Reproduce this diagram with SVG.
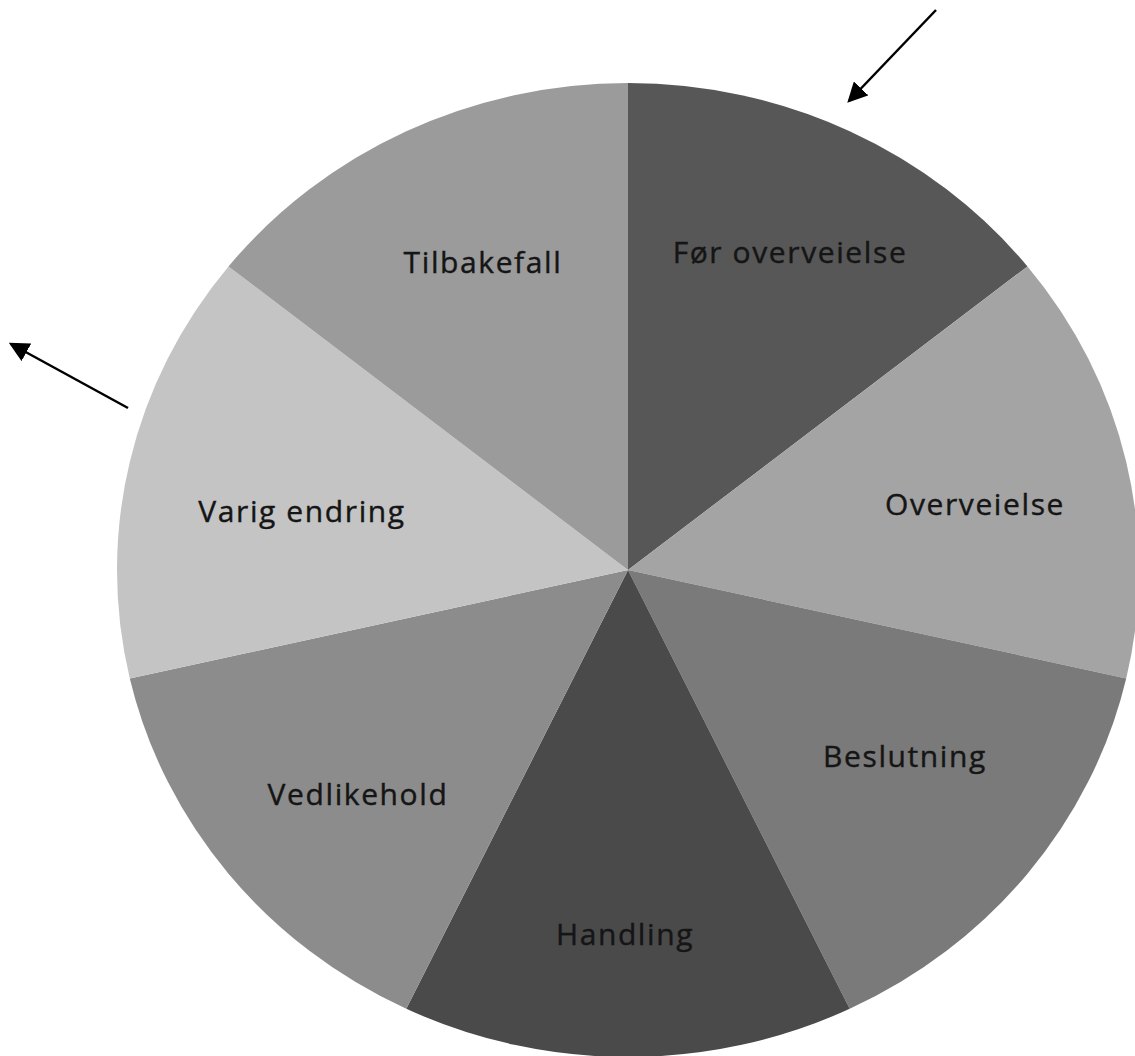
<svg xmlns="http://www.w3.org/2000/svg" width="1135" height="1056" viewBox="0 0 1135 1056">
<style>
.lbl{font-family:"Open Sans","Noto Sans","Liberation Sans",sans-serif;font-size:30px;letter-spacing:1.6px;fill:#151515;stroke:#151515;stroke-width:0.4;text-anchor:middle}
.arr{stroke:#000;stroke-width:2.5;fill:none;marker-end:url(#ah)}
</style>
<defs>
<marker id="ah" markerWidth="8" markerHeight="8" refX="7" refY="4" orient="auto" markerUnits="strokeWidth">
<path d="M0,0 L8,4 L0,8 z" fill="#000"/>
</marker>
</defs>
<rect width="1135" height="1056" fill="#fff"/>
<g id="slice-for-overveielse">
<path d="M628,570 L628,83 A511,487 0 0 1 1027.5,266.4 Z" fill="#575757"/>
<text class="lbl" x="790" y="263">Før overveielse</text>
</g>
<g id="slice-overveielse">
<path d="M628,570 L1027.5,266.4 A511,487 0 0 1 1126.2,678.4 Z" fill="#a4a4a4"/>
<text class="lbl" x="975" y="515">Overveielse</text>
</g>
<g id="slice-beslutning">
<path d="M628,570 L1126.2,678.4 A511,487 0 0 1 849.7,1008.8 Z" fill="#7a7a7a"/>
<text class="lbl" x="905" y="767">Beslutning</text>
</g>
<g id="slice-handling">
<path d="M628,570 L849.7,1008.8 A511,487 0 0 1 406.3,1008.8 Z" fill="#4a4a4a"/>
<text class="lbl" x="625" y="945">Handling</text>
</g>
<g id="slice-vedlikehold">
<path d="M628,570 L406.3,1008.8 A511,487 0 0 1 129.8,678.4 Z" fill="#8c8c8c"/>
<text class="lbl" x="358" y="805">Vedlikehold</text>
</g>
<g id="slice-varig-endring">
<path d="M628,570 L129.8,678.4 A511,487 0 0 1 228.5,266.4 Z" fill="#c4c4c4"/>
<text class="lbl" x="302" y="522">Varig endring</text>
</g>
<g id="slice-tilbakefall">
<path d="M628,570 L228.5,266.4 A511,487 0 0 1 628,83 Z" fill="#9b9b9b"/>
<text class="lbl" x="483" y="273">Tilbakefall</text>
</g>
<g id="connectors">
<line class="arr" x1="936" y1="10" x2="849" y2="101"/>
<line class="arr" x1="128" y1="408" x2="11" y2="344"/>
</g>
</svg>
